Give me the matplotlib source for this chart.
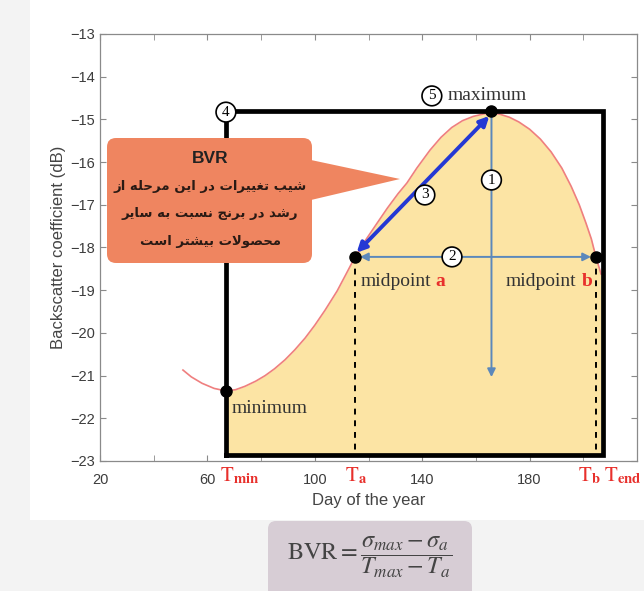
import matplotlib
matplotlib.use('Agg')
import matplotlib.pyplot as plt
from matplotlib.patches import FancyBboxPatch, Polygon, Rectangle
from matplotlib.transforms import IdentityTransform

plt.rcParams['mathtext.fontset'] = 'stix'

# backscatter profile over the season
curve_day = [50.9, 54.0, 58.0, 62.5, 66.9, 70.5, 74.0, 78.0, 81.5, 85.0, 88.9, 92.5, 96.4,
             100.0, 103.8, 108.3, 111.5, 115.0, 119.0, 123.2, 127.0, 131.0, 134.3, 138.0,
             142.9, 147.0, 151.0, 155.0, 159.0, 163.0, 165.8, 169.0, 172.5, 176.0, 180.0,
             184.0, 188.0, 192.0, 195.5, 198.5, 201.0, 203.0, 204.7, 206.6]
curve_db = [-20.87, -21.03, -21.18, -21.30, -21.36, -21.33, -21.25, -21.13, -21.00, -20.84,
            -20.63, -20.40, -20.12, -19.82, -19.47, -19.02, -18.64, -18.22, -17.82, -17.43,
            -17.08, -16.74, -16.49, -16.14, -15.72, -15.42, -15.19, -15.03, -14.93, -14.87,
            -14.85, -14.88, -14.95, -15.06, -15.23, -15.46, -15.76, -16.14, -16.57, -17.00,
            -17.43, -17.80, -18.22, -18.62]

t_min, sigma_min = 66.9, -21.36
t_a, sigma_a = 115.0, -18.22
t_b, sigma_b = 204.7, -18.22
t_max, sigma_max = 165.8, -14.80
t_end = 207.3
box_bottom = -22.86

x_ticks = [20, 60, 100, 140, 180]
x_minor = [40, 80, 120, 160, 200]
y_ticks = list(range(-23, -12))

callout_title = 'BVR'
callout_lines = ['شیب تغییرات در این مرحله از',
                 'رشد در برنج نسبت به سایر',
                 'محصولات بیشتر است']

# Arabic presentation forms: isolated, final, initial, medial
FORMS = {
    'ا': ('\uFE8D', '\uFE8E', None, None),
    'ب': ('\uFE8F', '\uFE90', '\uFE91', '\uFE92'),
    'ت': ('\uFE95', '\uFE96', '\uFE97', '\uFE98'),
    'ج': ('\uFE9D', '\uFE9E', '\uFE9F', '\uFEA0'),
    'ح': ('\uFEA1', '\uFEA2', '\uFEA3', '\uFEA4'),
    'د': ('\uFEA9', '\uFEAA', None, None),
    'ر': ('\uFEAD', '\uFEAE', None, None),
    'ز': ('\uFEAF', '\uFEB0', None, None),
    'س': ('\uFEB1', '\uFEB2', '\uFEB3', '\uFEB4'),
    'ش': ('\uFEB5', '\uFEB6', '\uFEB7', '\uFEB8'),
    'ص': ('\uFEB9', '\uFEBA', '\uFEBB', '\uFEBC'),
    'غ': ('\uFECD', '\uFECE', '\uFECF', '\uFED0'),
    'ل': ('\uFEDD', '\uFEDE', '\uFEDF', '\uFEE0'),
    'م': ('\uFEE1', '\uFEE2', '\uFEE3', '\uFEE4'),
    'ن': ('\uFEE5', '\uFEE6', '\uFEE7', '\uFEE8'),
    'ه': ('\uFEE9', '\uFEEA', '\uFEEB', '\uFEEC'),
    'و': ('\uFEED', '\uFEEE', None, None),
    'ی': ('\uFEEF', '\uFEF0', '\uFEF3', '\uFEF4'),
}
NO_LEFT_JOIN = set('ادذرزژو')


def shape_fa(text):
    # matplotlib has no bidi/shaping, so pick joined forms and reverse
    words = []
    for word in text.split(' '):
        out = []
        i = 0
        while i < len(word):
            c = word[i]
            prev_joins = i > 0 and word[i - 1] in FORMS and word[i - 1] not in NO_LEFT_JOIN
            if c == 'ل' and i + 1 < len(word) and word[i + 1] == 'ا':
                out.append('\uFEFC' if prev_joins else '\uFEFB')
                i += 2
                continue
            next_joins = i + 1 < len(word) and word[i + 1] in FORMS and c not in NO_LEFT_JOIN
            iso, fin, ini, med = FORMS[c]
            if prev_joins and next_joins:
                out.append(med)
            elif prev_joins:
                out.append(fin)
            elif next_joins:
                out.append(ini)
            else:
                out.append(iso)
            i += 1
        words.append(''.join(out))
    return ' '.join(words)[::-1]


W, H = 644, 591
fig = plt.figure(figsize=(W / 100, H / 100), dpi=100)
fig.patch.set_facecolor('#f3f3f3')
fig.add_artist(Rectangle((30, H - 520), W - 30, 520, transform=IdentityTransform(),
                         facecolor='white', edgecolor='none', zorder=-1))

ax = fig.add_axes([100 / W, 1 - 461 / H, 537 / W, 427 / H])

# growth season area under the curve
fill_x = [d for d in curve_day if d >= t_min]
fill_y = [v for d, v in zip(curve_day, curve_db) if d >= t_min]
ax.fill_between(fill_x, fill_y, box_bottom, color='#fce4a4', lw=0, zorder=1)
ax.plot(curve_day, curve_db, color='#ef7f7f', lw=1.2, zorder=2)

# black frame from T_min to T_end
ax.plot([t_min, t_min, t_end, t_end, t_min], [box_bottom, sigma_max, sigma_max, box_bottom, box_bottom],
        color='black', lw=3.4, solid_joinstyle='miter', zorder=3)

# dashed drops from the midpoints
ax.plot([t_a, t_a], [sigma_a, box_bottom], color='black', lw=1.4, ls=(0, (3, 3)), zorder=3)
ax.plot([t_b, t_b], [sigma_b, box_bottom], color='black', lw=1.4, ls=(0, (3, 3)), zorder=3)

arrow_blue = '#5b88bb'
ax.annotate('', xy=(t_max, -21.1), xytext=(t_max, sigma_max),
            arrowprops=dict(arrowstyle='-|>', color=arrow_blue, lw=1.4, mutation_scale=12), zorder=4)
ax.annotate('', xy=(t_b - 0.8, sigma_a), xytext=(t_a + 0.8, sigma_a),
            arrowprops=dict(arrowstyle='<|-|>', color=arrow_blue, lw=1.4, mutation_scale=12), zorder=4)
ax.annotate('', xy=(t_a + 0.6, sigma_a + 0.1), xytext=(t_max - 0.8, sigma_max - 0.12),
            arrowprops=dict(arrowstyle='<|-|>', color='#2438d4', lw=2.8, mutation_scale=14,
                            shrinkA=0, shrinkB=0), zorder=5)

ax.plot([t_min, t_a, t_b, t_max], [sigma_min, sigma_a, sigma_b, sigma_max], 'o',
        color='black', ms=8, zorder=6)

serif = 'Liberation Serif'
circle = dict(boxstyle='circle,pad=0.22', fc='white', ec='black', lw=1.2)
for num, x, y in [('1', t_max, -16.42), ('2', 151.1, sigma_a), ('3', 141.0, -16.77),
                  ('4', t_min, -14.83), ('5', 143.6, -14.45)]:
    ax.text(x, y, num, family=serif, fontsize=11, ha='center', va='center', bbox=circle, zorder=7)

ax.text(149.5, -14.45, 'maximum', family=serif, fontsize=14, color='#333333', va='center', zorder=7)
ax.text(69.0, -21.76, 'minimum', family=serif, fontsize=14, color='#333333', va='center', zorder=7)
ax.text(116.9, -18.8, 'midpoint', family=serif, fontsize=14, color='#333333', va='center', zorder=7)
ax.text(144.8, -18.8, 'a', family=serif, fontsize=14, color='#e8302c', weight='bold', va='center', zorder=7)
ax.text(171.0, -18.8, 'midpoint', family=serif, fontsize=14, color='#333333', va='center', zorder=7)
ax.text(199.6, -18.8, 'b', family=serif, fontsize=14, color='#e8302c', weight='bold', va='center', zorder=7)

# red time markers under the axis
for lab, x in [(r'$\mathrm{T}_{\mathbf{min}}$', 72.1), (r'$\mathrm{T}_{\mathbf{a}}$', 115.3),
               (r'$\mathrm{T}_{\mathbf{b}}$', 202.1), (r'$\mathrm{T}_{\mathbf{end}}$', 214.6)]:
    ax.annotate(lab, xy=(x, 0), xycoords=('data', 'axes fraction'), xytext=(0, -3),
                textcoords='offset points', ha='center', va='top', fontsize=15,
                color='#e8302c', annotation_clip=False)

ax.set_xlim(20, 220)
ax.set_ylim(-23, -13)
ax.set_xticks(x_ticks)
ax.set_xticks(x_minor, minor=True)
ax.set_yticks(y_ticks)
ax.tick_params(which='both', direction='in', top=True, right=True, length=4, color='#8a8a8a',
               labelcolor='#3c3c3c', labelsize=10.5)
ax.tick_params(axis='x', pad=9)
for lbl in ax.get_xticklabels() + ax.get_yticklabels():
    lbl.set_family('Liberation Sans')
for sp in ax.spines.values():
    sp.set_color('#8a8a8a')
    sp.set_linewidth(0.9)
ax.set_xlabel('Day of the year', family='Liberation Sans', fontsize=12, color='#444444', labelpad=4)
ax.set_ylabel('Backscatter coefficient (dB)', family='Liberation Sans', fontsize=12,
              color='#444444', labelpad=3)

# orange callout
orange = '#ef8560'
fig.add_artist(FancyBboxPatch((107, H - 263), 205, 125, boxstyle='round,pad=0,rounding_size=9',
                              transform=IdentityTransform(), facecolor=orange, edgecolor='none', zorder=10))
fig.add_artist(Polygon([(311, H - 160), (311, H - 200), (400, H - 179)], closed=True,
                       transform=IdentityTransform(), facecolor=orange, edgecolor='none', zorder=10))
fig.text(210 / W, 1 - 158 / H, callout_title, family='Liberation Sans', weight='bold',
         fontsize=12.5, color='#222222', ha='center', va='center', zorder=11)
for k, line in enumerate(callout_lines):
    fig.text(210 / W, 1 - (186 + 27.5 * k) / H, shape_fa(line), family='DejaVu Sans', weight='bold',
             fontsize=9.5, color='#2a1a14', ha='center', va='center', zorder=11)

# formula panel
fig.add_artist(FancyBboxPatch((268, -10), 204, H - 521 + 10, boxstyle='round,pad=0,rounding_size=8',
                              transform=IdentityTransform(), facecolor='#d7cdd5', edgecolor='none', zorder=10))
fig.text(370 / W, 1 - 557 / H, r'$\mathrm{BVR} = \dfrac{\sigma_{max} - \sigma_a}{T_{max} - T_a}$',
         fontsize=17.5, color='#444444', ha='center', va='center', zorder=11)

fig.savefig('out.png', dpi=100)
